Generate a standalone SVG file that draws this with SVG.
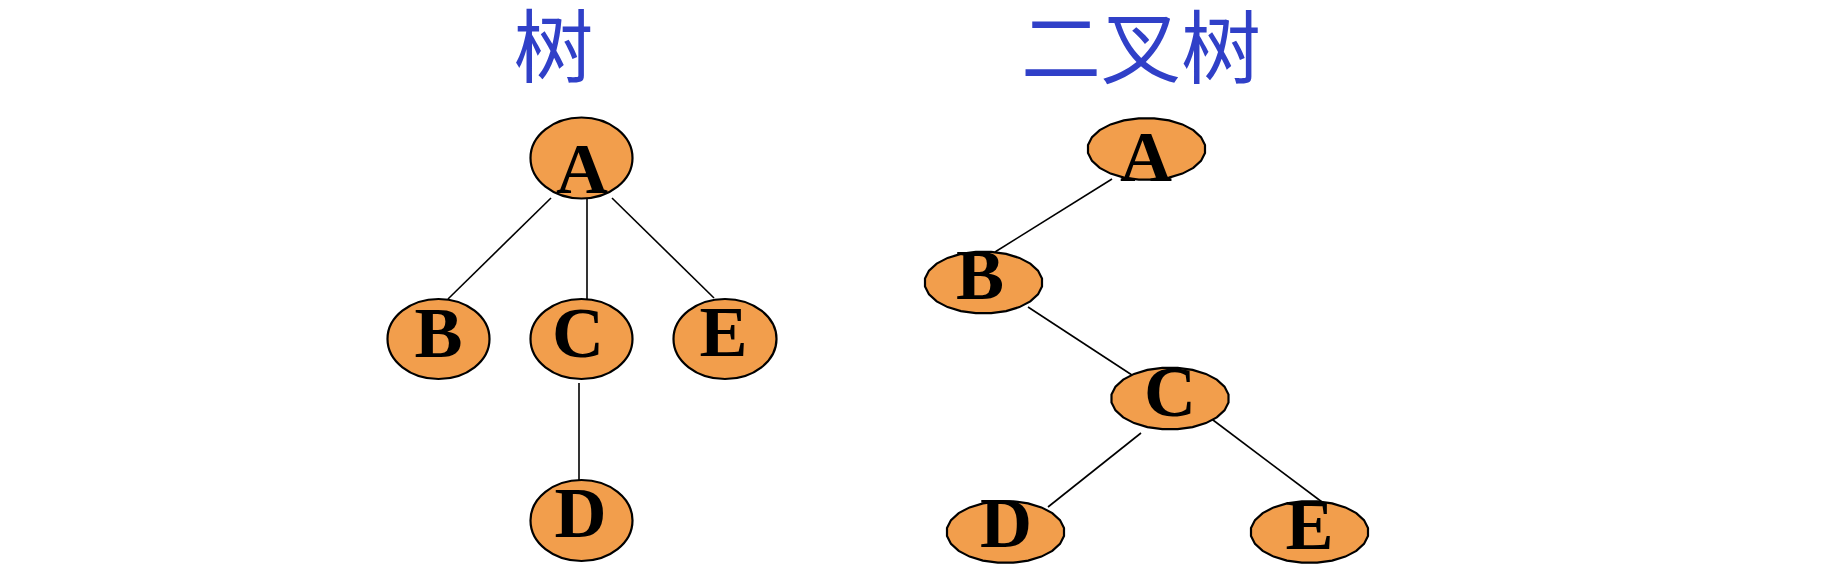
<svg xmlns="http://www.w3.org/2000/svg" xmlns:xlink="http://www.w3.org/1999/xlink" width="1836" height="570" viewBox="0 0 1836 570">
  <style>
    .title { font-family: "Noto Sans CJK SC", "Noto Sans", sans-serif; font-size: 80px; fill: #3040C8; text-anchor: middle; }
    .node { fill: #F29E4C; stroke: #000; stroke-width: 2.2; }
    .lbl { font-family: "Liberation Serif", "Times New Roman", serif; font-weight: bold; font-size: 72px; fill: #000; text-anchor: middle; }
    .edge { stroke: #000; stroke-width: 1.6; fill: none; }
  </style>
  <defs>
    <path id="oval" d="M58.5,4.1 L54.5,11.9 L46.8,18.9 L35.9,24.6 L22.6,28.6 L7.7,30.7 L-7.7,30.7 L-22.6,28.6 L-35.9,24.6 L-46.8,18.9 L-54.5,11.9 L-58.5,4.1 L-58.5,-4.1 L-54.5,-11.9 L-46.8,-18.9 L-35.9,-24.6 L-22.6,-28.6 L-7.7,-30.7 L7.7,-30.7 L22.6,-28.6 L35.9,-24.6 L46.8,-18.9 L54.5,-11.9 L58.5,-4.1 Z"/>
  </defs>
  <rect width="1836" height="570" fill="#fff"/>

  <g id="titles">
    <text class="title" x="553.5" y="76">树</text>
    <text class="title" x="1141" y="77">二叉树</text>
  </g>

  <g id="connectors">
    <line class="edge" x1="551" y1="198" x2="448" y2="299"/>
    <line class="edge" x1="587" y1="199" x2="587" y2="299"/>
    <line class="edge" x1="612" y1="198" x2="714" y2="298"/>
    <line class="edge" x1="579" y1="383" x2="579" y2="483"/>
    <line class="edge" x1="1112" y1="179" x2="995" y2="252"/>
    <line class="edge" x1="1028" y1="307" x2="1135" y2="377"/>
    <line class="edge" x1="1141" y1="433" x2="1048" y2="507"/>
    <line class="edge" x1="1205" y1="414" x2="1322" y2="502"/>
  </g>

  <g id="tree-A"><ellipse class="node" cx="581.5" cy="158" rx="51" ry="40.5"/><text class="lbl" x="582" y="193">A</text></g>
  <g id="tree-B"><ellipse class="node" cx="438.5" cy="339" rx="51" ry="40"/><text class="lbl" x="438.5" y="357">B</text></g>
  <g id="tree-C"><ellipse class="node" cx="581.5" cy="339" rx="51" ry="40"/><text class="lbl" x="578" y="357">C</text></g>
  <g id="tree-E"><ellipse class="node" cx="725" cy="339" rx="51.5" ry="40"/><text class="lbl" x="723.5" y="356">E</text></g>
  <g id="tree-D"><ellipse class="node" cx="581.5" cy="520.5" rx="51" ry="40.5"/><text class="lbl" x="580.5" y="537">D</text></g>

  <g id="bin-A"><use xlink:href="#oval" href="#oval" class="node" x="1146.5" y="149"/><text class="lbl" x="1146" y="181">A</text></g>
  <g id="bin-B"><use xlink:href="#oval" href="#oval" class="node" x="983.5" y="282.5"/><text class="lbl" x="980" y="299">B</text></g>
  <g id="bin-C"><use xlink:href="#oval" href="#oval" class="node" x="1170" y="398.5"/><text class="lbl" x="1170" y="416">C</text></g>
  <g id="bin-D"><use xlink:href="#oval" href="#oval" class="node" x="1005.5" y="532"/><text class="lbl" x="1006" y="547">D</text></g>
  <g id="bin-E"><use xlink:href="#oval" href="#oval" class="node" x="1309.5" y="532"/><text class="lbl" x="1309.5" y="549">E</text></g>
</svg>
